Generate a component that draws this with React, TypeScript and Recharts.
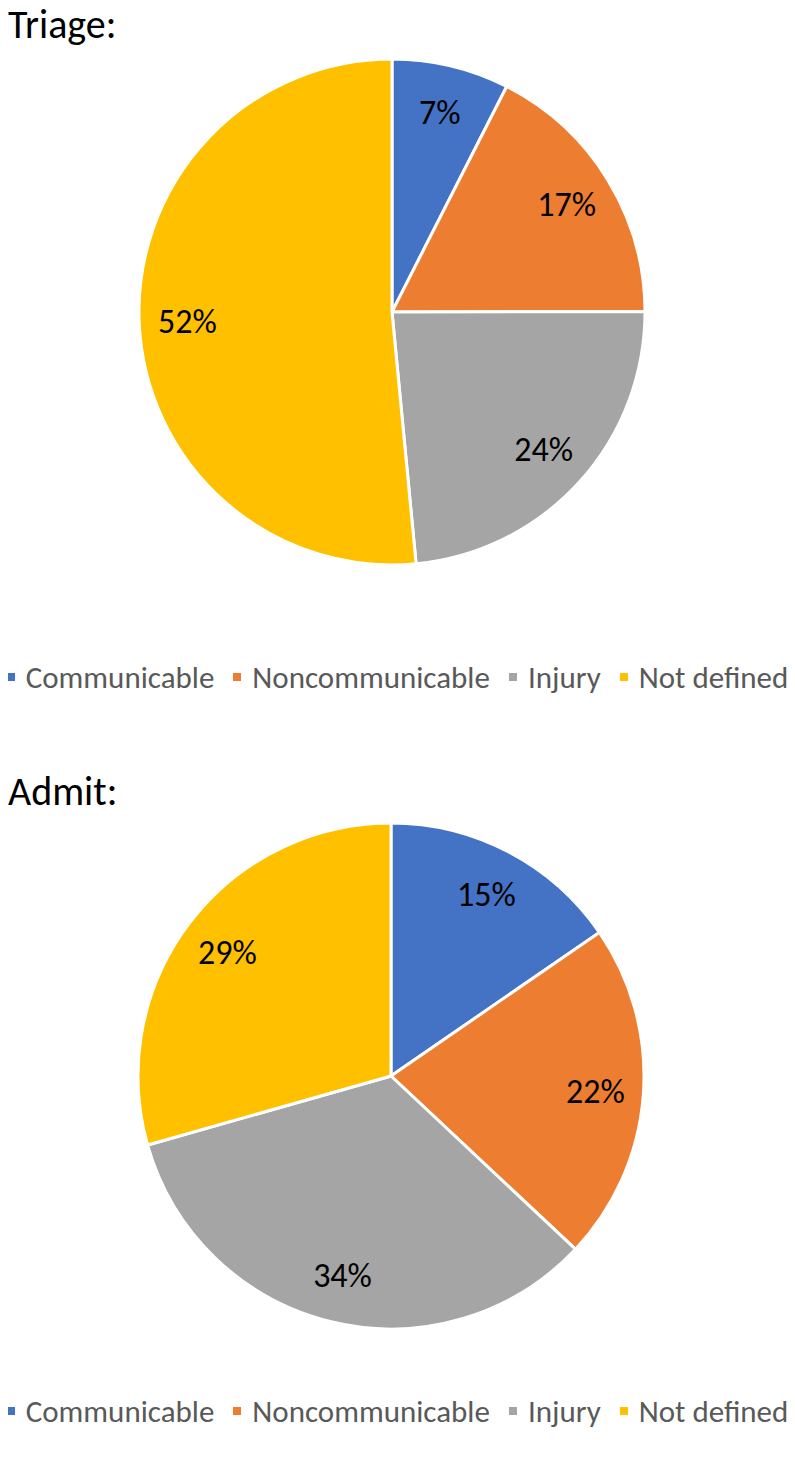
import { Cell, Legend, Pie, PieChart } from "recharts";

const categories = ["Communicable", "Noncommunicable", "Injury", "Not defined"];
const sliceColors = ["#4472C4", "#ED7D31", "#A5A5A5", "#FFC000"];
const triageValues = [7.49, 17.49, 23.5, 51.52];
const admitValues = [15.4, 21.6, 33.6, 29.4];

const FONT = "Carlito, Lato, 'Open Sans', sans-serif";
const RADIAN = Math.PI / 180;

function renderPercentLabel(props: any) {
  const { cx, cy, midAngle, outerRadius, percent } = props;
  const r = outerRadius * 0.81;
  const x = cx + r * Math.cos(-midAngle * RADIAN);
  const y = cy + r * Math.sin(-midAngle * RADIAN);
  return (
    <text x={x} y={y} fill="#000" textAnchor="middle" dominantBaseline="central" fontSize={34} fontFamily={FONT}>
      {Math.round(percent * 100)}%
    </text>
  );
}

function LegendRow() {
  return (
    <div
      style={{
        display: "flex",
        justifyContent: "center",
        alignItems: "center",
        fontFamily: FONT,
        fontSize: 31,
        color: "#595959",
        lineHeight: "36px",
        whiteSpace: "nowrap",
      }}
    >
      {categories.map((name, i) => (
        <span
          key={name}
          style={{ display: "flex", alignItems: "center", flexShrink: 0, marginRight: i < categories.length - 1 ? 19 : 0 }}
        >
          <span
            style={{ width: 8, height: 8, flexShrink: 0, background: sliceColors[i], marginRight: 11, display: "inline-block" }}
          />
          {name}
        </span>
      ))}
    </div>
  );
}

function CategoryPie({
  title,
  values,
  top,
  height,
  cx,
  cy,
  titleTop,
  legendTop,
}: {
  title: string;
  values: number[];
  top: number;
  height: number;
  cx: number;
  cy: number;
  titleTop: number;
  legendTop: number;
}) {
  const data = categories.map((name, i) => ({ name, value: values[i] }));
  return (
    <div style={{ position: "absolute", left: 0, top, width: 795, height }}>
      <div
        style={{
          position: "absolute",
          left: 8,
          top: titleTop,
          fontFamily: FONT,
          fontSize: 40,
          lineHeight: "48px",
          color: "#000",
        }}
      >
        {title}
      </div>
      <PieChart width={795} height={height} margin={{ top: 0, right: 0, bottom: 0, left: 0 }}>
        <Pie
          data={data}
          dataKey="value"
          nameKey="name"
          cx={cx}
          cy={cy}
          outerRadius={253}
          startAngle={90}
          endAngle={-270}
          stroke="#fff"
          strokeWidth={3}
          label={renderPercentLabel}
          labelLine={false}
          isAnimationActive={false}
        >
          {data.map((d, i) => (
            <Cell key={d.name} fill={sliceColors[i]} />
          ))}
        </Pie>
        <Legend
          layout="horizontal"
          verticalAlign="middle"
          align="center"
          wrapperStyle={{ position: "absolute", top: legendTop, left: 0, width: 795 }}
          content={() => <LegendRow />}
        />
      </PieChart>
    </div>
  );
}

export default function App() {
  return (
    <div style={{ position: "relative", width: 795, height: 1459, margin: -8, background: "#fff", overflow: "hidden" }}>
      <CategoryPie title="Triage:" values={triageValues} top={0} height={720} cx={392} cy={312} titleTop={1} legendTop={659} />
      <CategoryPie title="Admit:" values={admitValues} top={760} height={699} cx={391} cy={316} titleTop={8} legendTop={633} />
    </div>
  );
}
